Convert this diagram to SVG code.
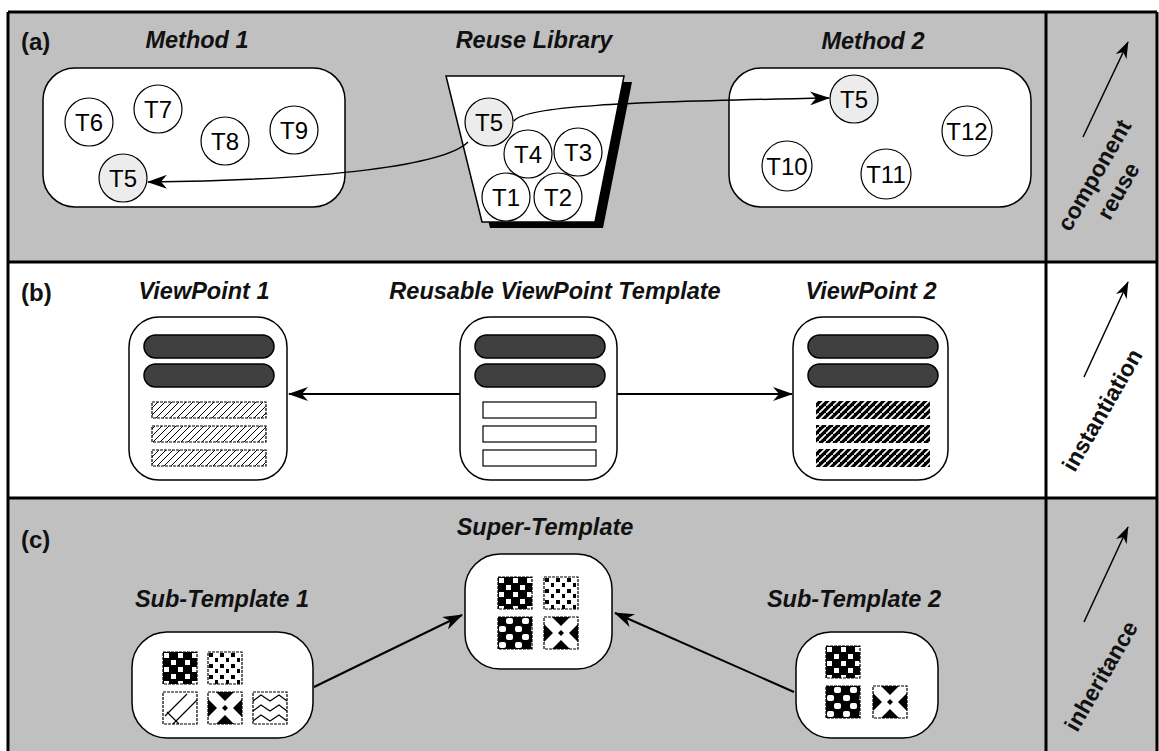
<svg xmlns="http://www.w3.org/2000/svg" width="1159" height="751" viewBox="0 0 1159 751">
<style>
.title{font-family:"Liberation Sans",Arial,sans-serif;font-weight:bold;font-style:italic;font-size:23.5px;fill:#111;text-anchor:middle}
.sec{font-family:"Liberation Sans",Arial,sans-serif;font-weight:bold;font-size:24px;fill:#111}
.tl{font-family:"Liberation Sans",Arial,sans-serif;font-size:24px;text-anchor:middle;fill:#000}
.side{font-family:"Liberation Sans",Arial,sans-serif;font-weight:bold;font-size:23px;text-anchor:middle;fill:#111}
.box{fill:#fff;stroke:#000;stroke-width:1.5}
.c{fill:#fff;stroke:#000;stroke-width:1.2}
.c5{fill:#ececec;stroke:#000;stroke-width:1.2}
.dark{fill:#404040;stroke:#000;stroke-width:1.5}
.conn{fill:none;stroke:#000;stroke-width:1.5}
.conn2{fill:none;stroke:#000;stroke-width:2}
.frame{fill:none;stroke:#000;stroke-width:3}
.tb{fill:none;stroke:#000;stroke-width:1.2;stroke-dasharray:3 1}
.hl{fill:url(#hatchL);stroke:#000;stroke-width:1.2;stroke-dasharray:3 1}
.hd{fill:url(#hatchD);stroke:none}
.wb{fill:#fff;stroke:#000;stroke-width:1.2}
</style>
<defs>
<marker id="ah" viewBox="0 0 20 14" refX="19" refY="7" markerWidth="20" markerHeight="14" markerUnits="userSpaceOnUse" orient="auto"><path d="M0,0 L20,7 L0,14 L6,7 z" fill="#000"/></marker>
<marker id="ahs" viewBox="0 0 20 14" refX="19" refY="7" markerWidth="17" markerHeight="12" markerUnits="userSpaceOnUse" orient="auto"><path d="M0,0 L20,7 L0,14 L6,7 z" fill="#000"/></marker>
<pattern id="hatchL" width="7" height="7" patternUnits="userSpaceOnUse"><rect width="7" height="7" fill="#fff"/><path d="M-1,8 L8,-1" stroke="#000" stroke-width="1"/></pattern>
<pattern id="hatchD" width="7" height="7" patternUnits="userSpaceOnUse"><rect width="7" height="7" fill="#000"/><path d="M-1,8 L8,-1" stroke="#fff" stroke-width="1.6"/></pattern>
<pattern id="pChk" width="14" height="14" patternUnits="userSpaceOnUse"><rect width="14" height="14" fill="#000"/><rect x="1" y="1" width="5" height="5" fill="#fff"/><rect x="8" y="8" width="5" height="5" fill="#fff"/></pattern>
<pattern id="pDot" width="11" height="11" patternUnits="userSpaceOnUse"><rect width="11" height="11" fill="#fff"/><rect x="1" y="1" width="4" height="4" fill="#000"/><rect x="7" y="6" width="3" height="4" fill="#000"/></pattern>
<pattern id="pBlob" width="16" height="16" patternUnits="userSpaceOnUse"><rect width="16" height="16" fill="#000"/><rect x="8" y="1" width="7" height="6" rx="2" fill="#fff"/><rect x="1" y="9" width="7" height="6" rx="2" fill="#fff"/></pattern>
<g id="tChk"><rect width="34" height="32" fill="url(#pChk)"/><rect width="34" height="32" class="tb"/></g>
<g id="tDot"><rect width="34" height="32" fill="url(#pDot)"/><rect width="34" height="32" class="tb"/></g>
<g id="tBlob"><rect width="34" height="32" fill="url(#pBlob)"/><rect width="34" height="32" class="tb"/></g>
<g id="tX"><rect width="34" height="32" fill="#fff"/><path d="M8,0 L26,0 L17,9 z M8,32 L26,32 L17,23 z M0,7 L0,25 L9,16 z M34,7 L34,25 L25,16 z" fill="#000"/><path d="M14,16 L17,13 L20,16 L17,19 z" fill="#000"/><rect width="34" height="32" class="tb"/></g>
<g id="tDiag"><rect width="34" height="32" fill="#fff"/><path d="M2,24 L24,2 M10,32 L34,8 M4,20 L16,32" stroke="#000" stroke-width="1.2" fill="none"/><rect width="34" height="32" class="tb"/></g>
<g id="tWave"><rect width="34" height="32" fill="#fff"/><path d="M0,9 L8,3 L17,9 L26,3 L34,9 M0,19 L8,13 L17,19 L26,13 L34,19 M0,29 L8,23 L17,29 L26,23 L34,29" stroke="#000" stroke-width="1.2" fill="none"/><rect width="34" height="32" class="tb"/></g>
</defs>
<rect width="1159" height="751" fill="#fff"/>
<g id="backgrounds">
<rect x="8" y="12" width="1149" height="250" fill="#c0c0c0"/>
<rect x="8" y="262" width="1149" height="236" fill="#fff"/>
<rect x="8" y="498" width="1149" height="253" fill="#c0c0c0"/>
<path class="frame" d="M8,12 H1157 M8,262 H1157 M8,498 H1157 M8,12 V751 M1046,12 V751 M1157,12 V751"/>
</g>
<g id="labels">
<text class="sec" x="21" y="50">(a)</text>
<text class="sec" x="21" y="301">(b)</text>
<text class="sec" x="21" y="548">(c)</text>
</g>
<g id="method1">
<text class="title" x="197" y="48">Method 1</text>
<rect class="box" x="43" y="68" width="302" height="139" rx="32"/>
<circle class="c" cx="89" cy="122" r="24"/><text class="tl" x="89" y="131">T6</text>
<circle class="c" cx="158" cy="109" r="24"/><text class="tl" x="158" y="118">T7</text>
<circle class="c" cx="225" cy="141" r="24"/><text class="tl" x="225" y="150">T8</text>
<circle class="c" cx="294" cy="130" r="24"/><text class="tl" x="294" y="139">T9</text>
<circle class="c5" cx="123" cy="178" r="24"/><text class="tl" x="123" y="187">T5</text>
</g>
<g id="reuse-library">
<text class="title" x="534" y="48">Reuse Library</text>
<polygon points="454,82 632,82 603,228 490,228" fill="#000"/>
<polygon points="446,76 624,76 595,222 482,222" fill="#fff" stroke="#000" stroke-width="1.5"/>
<circle class="c5" cx="489" cy="122" r="24"/><text class="tl" x="489" y="131">T5</text>
<circle class="c" cx="528" cy="154" r="24"/><text class="tl" x="528" y="163">T4</text>
<circle class="c" cx="578" cy="152" r="24"/><text class="tl" x="578" y="161">T3</text>
<circle class="c" cx="506" cy="197" r="24"/><text class="tl" x="506" y="206">T1</text>
<circle class="c" cx="558" cy="197" r="24"/><text class="tl" x="558" y="206">T2</text>
</g>
<g id="method2">
<text class="title" x="873" y="49">Method 2</text>
<rect class="box" x="729" y="68" width="302" height="139" rx="32"/>
<circle class="c5" cx="854" cy="99" r="24"/><text class="tl" x="854" y="108">T5</text>
<circle class="c" cx="967" cy="131" r="25"/><text class="tl" x="967" y="140">T12</text>
<circle class="c" cx="787" cy="166" r="25"/><text class="tl" x="787" y="175">T10</text>
<circle class="c" cx="886" cy="174" r="25"/><text class="tl" x="886" y="183">T11</text>
</g>
<g id="viewpoint1">
<text class="title" x="204" y="299">ViewPoint 1</text>
<rect class="box" x="129" y="317" width="158" height="163" rx="30"/>
<rect class="dark" x="144" y="335" width="130" height="23" rx="11.5"/>
<rect class="dark" x="144" y="364" width="130" height="23" rx="11.5"/>
<rect class="hl" x="152" y="402" width="114" height="16"/>
<rect class="hl" x="152" y="426" width="114" height="16"/>
<rect class="hl" x="152" y="450" width="114" height="16"/>
</g>
<g id="template">
<text class="title" x="555" y="299">Reusable ViewPoint Template</text>
<rect class="box" x="460" y="317" width="157" height="163" rx="30"/>
<rect class="dark" x="475" y="335" width="130" height="23" rx="11.5"/>
<rect class="dark" x="475" y="364" width="130" height="23" rx="11.5"/>
<rect class="wb" x="483" y="402" width="113" height="16"/>
<rect class="wb" x="483" y="426" width="113" height="16"/>
<rect class="wb" x="483" y="450" width="113" height="16"/>
</g>
<g id="viewpoint2">
<text class="title" x="871" y="299">ViewPoint 2</text>
<rect class="box" x="793" y="317" width="155" height="163" rx="30"/>
<rect class="dark" x="808" y="335" width="130" height="23" rx="11.5"/>
<rect class="dark" x="808" y="364" width="130" height="23" rx="11.5"/>
<rect class="hd" x="816" y="401" width="114" height="18"/>
<rect class="hd" x="816" y="425" width="114" height="18"/>
<rect class="hd" x="816" y="449" width="114" height="18"/>
</g>
<g id="super-template">
<text class="title" x="545" y="535">Super-Template</text>
<rect class="box" x="465" y="554" width="147" height="115" rx="35"/>
<use href="#tChk" x="498" y="577"/><use href="#tDot" x="544" y="577"/>
<use href="#tBlob" x="498" y="617"/><use href="#tX" x="544" y="617"/>
</g>
<g id="sub-template1">
<text class="title" x="222" y="607">Sub-Template 1</text>
<rect class="box" x="132" y="632" width="181" height="106" rx="35"/>
<use href="#tChk" x="163" y="652"/><use href="#tDot" x="208" y="652"/>
<use href="#tDiag" x="163" y="692"/><use href="#tX" x="208" y="692"/><use href="#tWave" x="253" y="692"/>
</g>
<g id="sub-template2">
<text class="title" x="854" y="607">Sub-Template 2</text>
<rect class="box" x="796" y="632" width="142" height="106" rx="35"/>
<use href="#tChk" x="826" y="646"/>
<use href="#tBlob" x="826" y="686"/><use href="#tX" x="873" y="686"/>
</g>
<g id="side-labels">
<text class="side" transform="translate(1101,179) rotate(-60)">component</text>
<text class="side" transform="translate(1125,195) rotate(-60)">reuse</text>
<text class="side" transform="translate(1109,414) rotate(-60)">instantiation</text>
<text class="side" transform="translate(1108,680) rotate(-60)">inheritance</text>
</g>
<g id="connectors">
<path class="conn" d="M468,142 C445,165 330,180 148,182" marker-end="url(#ah)"/>
<path class="conn" d="M514,121 C525,106 620,102 829,98" marker-end="url(#ah)"/>
<path class="conn2" d="M460,394 L289,394" marker-end="url(#ah)"/>
<path class="conn2" d="M617,394 L792,394" marker-end="url(#ah)"/>
<path class="conn2" d="M314,687 L462,615" marker-end="url(#ah)"/>
<path class="conn2" d="M794,692 L615,613" marker-end="url(#ah)"/>
<path class="conn" d="M1083,137 L1128,42" marker-end="url(#ahs)"/>
<path class="conn" d="M1084,377 L1128,282" marker-end="url(#ahs)"/>
<path class="conn" d="M1084,622 L1128,527" marker-end="url(#ahs)"/>
</g>
</svg>
